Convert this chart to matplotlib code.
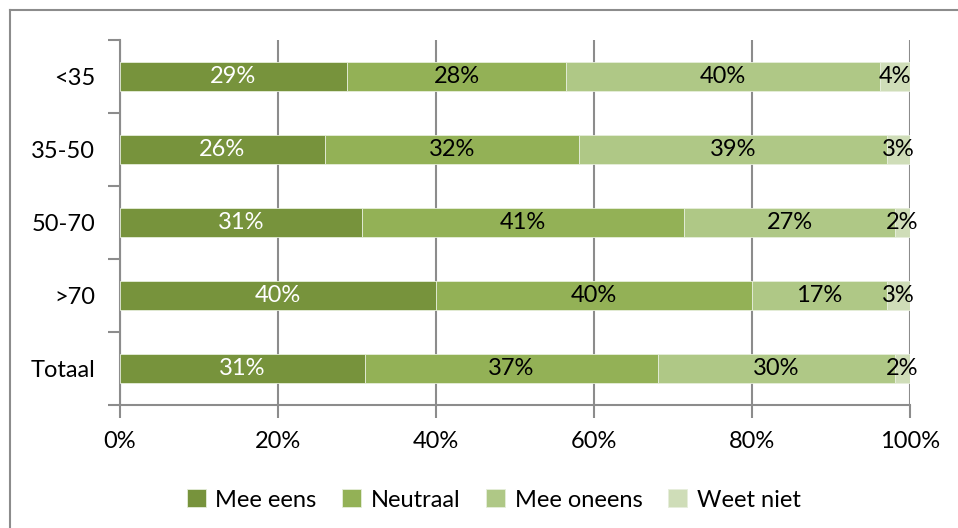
import numpy as np
import matplotlib.pyplot as plt
from matplotlib.lines import Line2D

# data (percentages)
groups = ['<35', '35-50', '50-70', '>70', 'Totaal']
series = ['Mee eens', 'Neutraal', 'Mee oneens', 'Weet niet']
mee_eens = [28.7, 25.9, 30.6, 40.0, 31.0]
neutraal = [27.8, 32.2, 40.8, 40.0, 37.1]
mee_oneens = [39.7, 39.0, 26.7, 17.1, 30.0]
weet_niet = [3.8, 2.9, 1.9, 2.9, 1.9]

colors = ['#77933C', '#93B156', '#AFC886', '#CFDDB8']
txt_colors = ['white', 'black', 'black', 'black']

plt.rcParams['font.family'] = ['Lato', 'DejaVu Sans']
plt.rcParams['font.size'] = 17

fig = plt.figure(figsize=(9.58, 5.28), dpi=100)
W, H = 958, 528
ax = fig.add_axes([120 / W, 1 - 405 / H, 790 / W, 365 / H])

# chart frame (only top and left visible)
fig.add_artist(Line2D([10 / W, 10 / W], [0, 1 - 10 / H], color='#8c8c8c', lw=1.5))
fig.add_artist(Line2D([10 / W, 1], [1 - 10 / H, 1 - 10 / H], color='#8c8c8c', lw=1.5))

y = np.arange(len(groups))
left = np.zeros(len(groups))
for vals, name, c, tc in zip([mee_eens, neutraal, mee_oneens, weet_niet], series, colors, txt_colors):
    vals = np.array(vals)
    ax.barh(y, vals, left=left, height=0.4, color=c, edgecolor='#e6eedb', linewidth=0.6,
            label=name, zorder=3)
    for yi, l, v in zip(y, left, vals):
        ax.text(l + v / 2, yi, '%d%%' % round(v), ha='center', va='center',
                color=tc, fontsize=17, zorder=4)
    left = left + vals

ax.set_xlim(0, 100)
ax.set_ylim(len(groups) - 0.5, -0.5)
ax.set_xticks(np.arange(0, 101, 20))
ax.set_xticklabels(['%d%%' % v for v in range(0, 101, 20)])
ax.set_yticks(y)
ax.set_yticklabels(groups)
ax.set_yticks(np.arange(-0.5, len(groups)), minor=True)
ax.tick_params(axis='y', which='major', length=0, pad=18)
ax.tick_params(axis='y', which='minor', length=9, width=1.5, color='#8c8c8c')
ax.tick_params(axis='x', length=9, width=1.5, color='#8c8c8c', pad=10)
ax.grid(axis='x', color='#8c8c8c', lw=1.5, zorder=0)

for s in ['top', 'right']:
    ax.spines[s].set_visible(False)
for s in ['left', 'bottom']:
    ax.spines[s].set_color('#8c8c8c')
    ax.spines[s].set_linewidth(1.5)

ax.legend(loc='center', bbox_to_anchor=(0.473, -0.26), ncol=4, frameon=False,
          handlelength=0.8, handleheight=0.8, handletextpad=0.4, columnspacing=1.1)

fig.savefig('out.png', dpi=100)
